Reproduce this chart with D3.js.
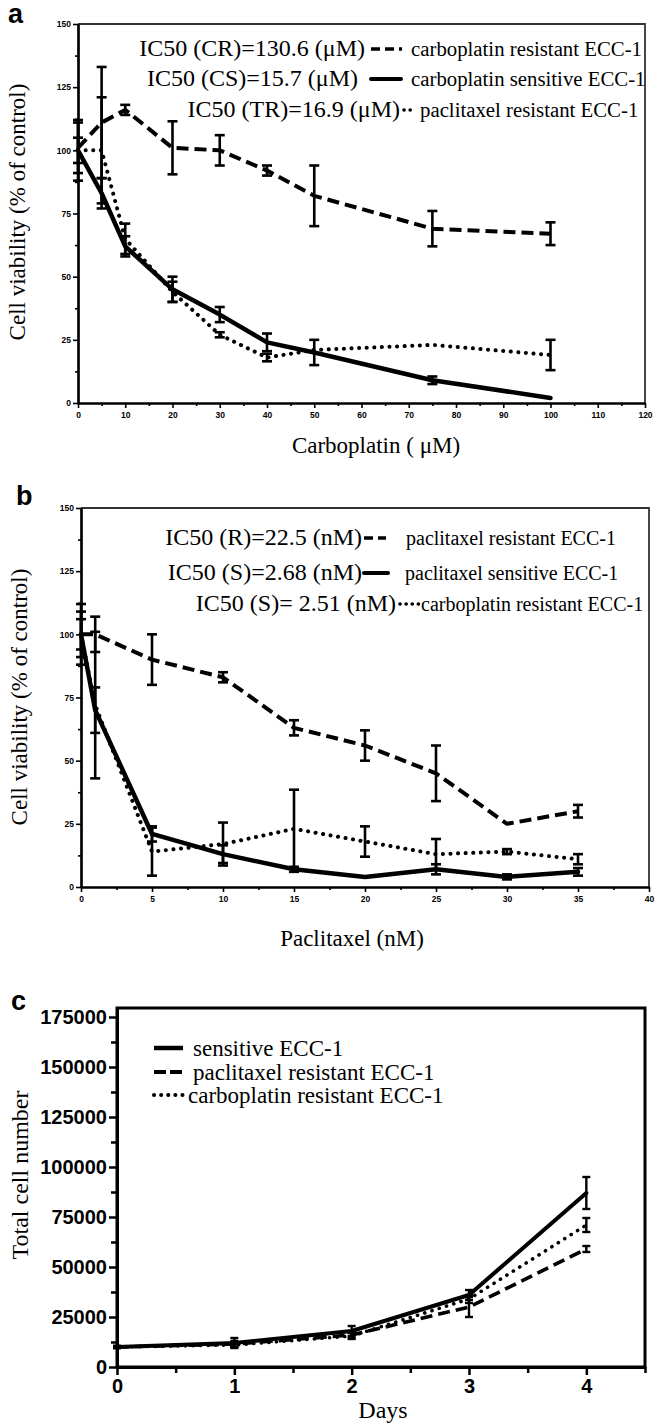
<!DOCTYPE html>
<html><head><meta charset="utf-8">
<script src="https://cdn.jsdelivr.net/npm/d3@7"></script>
<style>body{margin:0;background:#fff} svg{display:block}</style>
</head><body>
<svg id="chart" width="657" height="1424"></svg>
<script>
// ---------- DATA ----------
// Panel a: carboplatin dose (µM) vs viability (% of control)
const concA = [0, 5, 10, 20, 30, 40, 50, 75, 100];
const carboResA = [101, 111, 116, 101, 100, 92, 82, 69, 67];
const carboResAErr = [10, 22, 2, 10.5, 6, 2, 12, 7, 4.5];
const carboSensA = [100, 83, 62, 45, 35, 24, 20, 9, 2];
const carboSensAErr = [12, 6, 4, 5, 3, 3.5, 5, 1.5, 0];
const ptxResA = [100, 100, 65, 44, 27, 18, 21, 23, 19];
const ptxResAErr = [5, 21, 6, 4, 1, 1.5, 0, 0, 6];
const legendA = [
  {ic: "IC50 (CR)=130.6 (\u03bcM)", label: "carboplatin resistant ECC-1", style: "dashed"},
  {ic: "IC50 (CS)=15.7 (\u03bcM)", label: "carboplatin sensitive ECC-1", style: "solid"},
  {ic: "IC50 (TR)=16.9 (\u03bcM)", label: "paclitaxel resistant ECC-1", style: "dotted"}
];
const xTicksA = [0, 10, 20, 30, 40, 50, 60, 70, 80, 90, 100, 110, 120];
const yTicksAB = [0, 25, 50, 75, 100, 125, 150];

// Panel b: paclitaxel dose (nM) vs viability
const concB = [0, 1, 5, 10, 15, 20, 25, 30, 35];
const ptxResB = [100, 100, 90, 83, 63, 56, 45, 25, 30];
const ptxResBErr = [9, 7, 10, 2, 3, 6, 11, 0, 2.5];
const ptxSensB = [100, 70, 21, 13, 7, 4, 7, 4, 6];
const ptxSensBErr = [12, 9, 3, 3.5, 1, 0, 2, 1, 1.5];
const carboResB = [100, 72, 14, 17, 23, 18, 13, 14, 11];
const carboResBErr = [6, 29, 9.5, 8.5, 15.5, 6, 6, 1, 2];
const legendB = [
  {ic: "IC50 (R)=22.5 (nM)", label: "paclitaxel resistant ECC-1", style: "dashed"},
  {ic: "IC50 (S)=2.68 (nM)", label: "paclitaxel sensitive ECC-1", style: "solid"},
  {ic: "IC50 (S)= 2.51 (nM)", label: "carboplatin resistant ECC-1", style: "dotted"}
];
const xTicksB = [0, 5, 10, 15, 20, 25, 30, 35, 40];

// Panel c: growth over days
const days = [0, 1, 2, 3, 4];
const sensC = [10000, 12000, 18000, 36000, 87000];
const sensCErr = [500, 2500, 2500, 2500, 8000];
const ptxResC = [10000, 11500, 16000, 30000, 59000];
const ptxResCErr = [500, 1500, 1500, 5000, 1500];
const carboResC = [10000, 11000, 15500, 34000, 71000];
const carboResCErr = [500, 1000, 1500, 2000, 3500];
const legendC = [
  {label: "sensitive ECC-1", style: "solid"},
  {label: "paclitaxel resistant ECC-1", style: "dashed"},
  {label: "carboplatin resistant ECC-1", style: "dotted"}
];
const xTicksC = [0, 1, 2, 3, 4];
const yTicksC = [0, 25000, 50000, 75000, 100000, 125000, 150000, 175000];

// ---------- DRAWING ----------
const svg = d3.select("#chart");
const SERIF = "'Liberation Serif','Times New Roman',serif";
const SANS = "'Liberation Sans',Arial,sans-serif";
const lineStyles = {
  dashed: {w: 4, dash: "12,6", cap: "butt"},
  solid: {w: 4.5, dash: null, cap: "round"},
  dotted: {w: 4, dash: "0.1,7.5", cap: "round"}
};
function styleLine(sel, st, scale = 1) {
  const s = lineStyles[st];
  sel.attr("fill", "none").attr("stroke", "#000").attr("stroke-width", s.w * scale)
    .attr("stroke-linecap", s.cap).attr("stroke-linejoin", "round");
  if (s.dash) sel.attr("stroke-dasharray", s.dash);
}
function drawSeries(g, x, y, xs, vals, errs, st, capW, errW, lw) {
  const pts = xs.map((d, i) => [d, vals[i], errs[i]]);
  pts.filter(p => p[2] > 0).forEach(p => {
    const e = g.append("g").attr("stroke", "#000").attr("stroke-width", errW);
    e.append("line").attr("x1", x(p[0])).attr("x2", x(p[0])).attr("y1", y(p[1] - p[2])).attr("y2", y(p[1] + p[2]));
    e.append("line").attr("x1", x(p[0]) - capW).attr("x2", x(p[0]) + capW).attr("y1", y(p[1] + p[2])).attr("y2", y(p[1] + p[2]));
    e.append("line").attr("x1", x(p[0]) - capW).attr("x2", x(p[0]) + capW).attr("y1", y(p[1] - p[2])).attr("y2", y(p[1] - p[2]));
  });
  const line = d3.line().x(p => x(p[0])).y(p => y(p[1]));
  g.append("path").attr("d", line(pts)).call(styleLine, st, lw);
}
function minorValues(ticks) {
  const out = [];
  for (let i = 0; i < ticks.length - 1; i++) out.push((ticks[i] + ticks[i + 1]) / 2);
  return out;
}

function viabilityPanel(o) {
  const g = svg.append("g");
  const x = d3.scaleLinear().domain([o.xTicks[0], o.xTicks[o.xTicks.length - 1]]).range([o.x0, o.x1]);
  const y = d3.scaleLinear().domain([0, 150]).range([o.y1, o.y0]);
  g.append("path").attr("d", `M${o.x0},${o.y0}H${o.x1}V${o.y1}`)
    .attr("fill", "none").attr("stroke", "#333").attr("stroke-width", 1.8);
  const tickFont = a => a.selectAll("text").attr("font-family", SANS).attr("font-weight", "bold").attr("font-size", 8.5).attr("fill", "#000");
  const xa = g.append("g").attr("transform", `translate(0,${o.y1})`)
    .call(d3.axisBottom(x).tickValues(o.xTicks).tickSize(5).tickPadding(4).tickSizeOuter(0));
  xa.call(tickFont);
  g.append("g").attr("transform", `translate(0,${o.y1})`)
    .call(d3.axisBottom(x).tickValues(minorValues(o.xTicks)).tickSize(3).tickFormat("").tickSizeOuter(0));
  const ya = g.append("g").attr("transform", `translate(${o.x0},0)`)
    .call(d3.axisLeft(y).tickValues(yTicksAB).tickSize(5).tickPadding(2).tickSizeOuter(0));
  ya.call(tickFont);
  g.append("g").attr("transform", `translate(${o.x0},0)`)
    .call(d3.axisLeft(y).tickValues(minorValues(yTicksAB)).tickSize(3).tickFormat("").tickSizeOuter(0));
  g.selectAll(".domain").attr("stroke", "#000").attr("stroke-width", 2.2);
  g.selectAll(".tick line").attr("stroke", "#000").attr("stroke-width", 1.6);

  o.series.forEach(s => drawSeries(g, x, y, o.xs, s.v, s.e, s.st, 5, 2.6, 1));

  // legend
  o.legend.forEach((r, i) => {
    const L = o.legendLayout[i];
    g.append("text").attr("x", L.icEnd).attr("y", L.y).attr("text-anchor", "end")
      .attr("font-family", SERIF).attr("font-size", 24).text(r.ic);
    g.append("line").attr("x1", L.s0).attr("x2", L.s1).attr("y1", L.y - 7).attr("y2", L.y - 7)
      .call(styleLine, r.style, 0.9)
      .attr("stroke-dasharray", r.style === "dashed" ? "9,5" : (r.style === "dotted" ? "0.1,6" : null));
    g.append("text").attr("x", L.lx).attr("y", L.y).attr("font-family", SERIF)
      .attr("font-size", o.labelSize).text(r.label);
  });
  // axis titles
  g.append("text").attr("x", o.xTitleX).attr("y", o.xTitleY).attr("text-anchor", "middle")
    .attr("font-family", SERIF).attr("font-size", 23).text(o.xTitle);
  g.append("text").attr("transform", `translate(${o.yTitleX},${o.yTitleY}) rotate(-90)`).attr("text-anchor", "middle")
    .attr("font-family", SERIF).attr("font-size", 23).text("Cell viability (% of control)");
  g.append("text").attr("x", o.tagX).attr("y", o.tagY).attr("font-family", SANS).attr("font-weight", "bold")
    .attr("font-size", 27).text(o.tag);
}

viabilityPanel({
  tag: "a", tagX: 8, tagY: 23,
  x0: 78, x1: 645, y0: 24, y1: 403,
  xTicks: xTicksA, xs: concA, labelSize: 20.8,
  series: [
    {v: carboResA, e: carboResAErr, st: "dashed"},
    {v: carboSensA, e: carboSensAErr, st: "solid"},
    {v: ptxResA, e: ptxResAErr, st: "dotted"}
  ],
  legend: legendA,
  legendLayout: [
    {icEnd: 365, s0: 371, s1: 402, lx: 411, y: 56},
    {icEnd: 358, s0: 371, s1: 401, lx: 411, y: 86},
    {icEnd: 400, s0: 404, s1: 416, lx: 420, y: 117}
  ],
  xTitle: "Carboplatin ( \u03bcM)", xTitleX: 376, xTitleY: 453,
  yTitleX: 25, yTitleY: 212
});

viabilityPanel({
  tag: "b", tagX: 16, tagY: 505,
  x0: 81, x1: 649, y0: 508, y1: 887,
  xTicks: xTicksB, xs: concB, labelSize: 20,
  series: [
    {v: ptxResB, e: ptxResBErr, st: "dashed"},
    {v: ptxSensB, e: ptxSensBErr, st: "solid"},
    {v: carboResB, e: carboResBErr, st: "dotted"}
  ],
  legend: legendB,
  legendLayout: [
    {icEnd: 362, s0: 364, s1: 386, lx: 406, y: 545},
    {icEnd: 362, s0: 364, s1: 388, lx: 405, y: 580},
    {icEnd: 396, s0: 400, s1: 419, lx: 421, y: 611}
  ],
  xTitle: "Paclitaxel (nM)", xTitleX: 352, xTitleY: 946,
  yTitleX: 27, yTitleY: 697
});

// Panel c
(function () {
  const g = svg.append("g");
  const x0 = 117, x1 = 645, y0 = 1008, y1 = 1367;
  const x = d3.scaleLinear().domain([0, 4.5]).range([x0, x1]);
  const y = d3.scaleLinear().domain([0, 179500]).range([y1, y0]);
  g.append("rect").attr("x", x0).attr("y", y0).attr("width", x1 - x0).attr("height", y1 - y0)
    .attr("fill", "none").attr("stroke", "#000").attr("stroke-width", 3);
  const tickFont = a => a.selectAll("text").attr("font-family", SANS).attr("font-weight", "bold").attr("font-size", 20).attr("fill", "#000");
  g.append("g").attr("transform", `translate(0,${y1})`)
    .call(d3.axisBottom(x).tickValues(xTicksC).tickSize(8).tickPadding(4).tickSizeOuter(0).tickFormat(d3.format("d"))).call(tickFont);
  g.append("g").attr("transform", `translate(0,${y1})`)
    .call(d3.axisBottom(x).tickValues([0.5, 1.5, 2.5, 3.5, 4.5]).tickSize(6).tickFormat("").tickSizeOuter(0));
  g.append("g").attr("transform", `translate(${x0},0)`)
    .call(d3.axisLeft(y).tickValues(yTicksC).tickSize(8).tickPadding(2).tickSizeOuter(0).tickFormat(d3.format("d"))).call(tickFont);
  g.append("g").attr("transform", `translate(${x0},0)`)
    .call(d3.axisLeft(y).tickValues(minorValues(yTicksC)).tickSize(6).tickFormat("").tickSizeOuter(0));
  g.selectAll(".domain").attr("stroke", "#000").attr("stroke-width", 3);
  g.selectAll(".tick line").attr("stroke", "#000").attr("stroke-width", 2.5);

  drawSeries(g, x, y, days, ptxResC, ptxResCErr, "dashed", 4, 2.4, 0.9);
  drawSeries(g, x, y, days, carboResC, carboResCErr, "dotted", 4, 2.4, 0.9);
  drawSeries(g, x, y, days, sensC, sensCErr, "solid", 4, 2.4, 0.9);

  const ly = [1056, 1080, 1103];
  legendC.forEach((r, i) => {
    g.append("line").attr("x1", 154).attr("x2", 183).attr("y1", ly[i] - 8).attr("y2", ly[i] - 8)
      .call(styleLine, r.style, 1)
      .attr("stroke-dasharray", r.style === "dashed" ? "12,4" : (r.style === "dotted" ? "0.1,7" : null))
      .attr("stroke-linecap", r.style === "dotted" ? "round" : "butt");
    g.append("text").attr("x", r.style === "dotted" ? 188 : 193).attr("y", ly[i])
      .attr("font-family", SERIF).attr("font-size", 23).text(r.label);
  });
  g.append("text").attr("x", 383).attr("y", 1418).attr("text-anchor", "middle")
    .attr("font-family", SERIF).attr("font-size", 24).text("Days");
  g.append("text").attr("transform", "translate(28,1175) rotate(-90)").attr("text-anchor", "middle")
    .attr("font-family", SERIF).attr("font-size", 24).text("Total cell number");
  g.append("text").attr("x", 11).attr("y", 1010).attr("font-family", SANS).attr("font-weight", "bold")
    .attr("font-size", 27).text("c");
})();
</script>
</body></html>
